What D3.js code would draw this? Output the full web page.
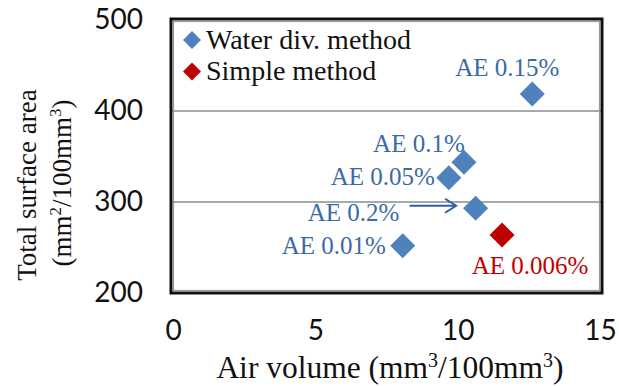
<!DOCTYPE html>
<html><head><meta charset="utf-8">
<script src="https://cdn.jsdelivr.net/npm/d3@7/dist/d3.min.js"></script>
<style>
html,body{margin:0;padding:0;background:#fff;}
svg{display:block;}
</style></head>
<body><div id="chart"></div>
<script>
// ---- data ----
const seriesNames = ["Water div. method", "Simple method"];
const seriesColors = ["#4f81bd", "#c00000"];
const labelColors = ["#3b6aa6", "#c00000"];
const waterLabels = ["AE 0.15%", "AE 0.1%", "AE 0.05%", "AE 0.2%", "AE 0.01%"];
const waterAir = [12.62, 10.22, 9.69, 10.63, 8.07];
const waterArea = [418.7, 343.6, 326.7, 293.1, 252.0];
const simpleLabels = ["AE 0.006%"];
const simpleAir = [11.56];
const simpleArea = [263.7];
const xTicks = [0, 5, 10, 15];
const yTicks = [200, 300, 400, 500];
const gridValues = [300, 400];

const W = 619, H = 386;
const svg = d3.select("#chart").append("svg").attr("width", W).attr("height", H);

const x = d3.scaleLinear().domain([0, 15]).range([173, 600]);
const y = d3.scaleLinear().domain([200, 500]).range([293, 20]);

// gridlines
svg.append("g").selectAll("line").data(gridValues).join("line")
  .attr("x1", 172).attr("x2", 601)
  .attr("y1", d => y(d)).attr("y2", d => y(d))
  .attr("stroke", "#8c8c8c").attr("stroke-width", 1.6);

// frame: outer black, inner gray
svg.append("rect").attr("x", 171).attr("y", 19).attr("width", 431).attr("height", 274)
  .attr("fill", "none").attr("stroke", "#111").attr("stroke-width", 3);
svg.append("rect").attr("x", 173.5).attr("y", 21.5).attr("width", 426).attr("height", 269)
  .attr("fill", "none").attr("stroke", "#9a9a9a").attr("stroke-width", 1.2);

// axes
const yAxis = svg.append("g").attr("transform", "translate(143,0)")
  .call(d3.axisLeft(y).tickValues(yTicks).tickSize(0).tickPadding(0).tickFormat(d3.format("d")));
yAxis.select(".domain").remove();
yAxis.selectAll("text").attr("font-family", "Lato, 'Open Sans', sans-serif").attr("font-size", 28).attr("fill", "#111");

const xAxis = svg.append("g").attr("transform", "translate(0,320)")
  .call(d3.axisBottom(x).tickValues(xTicks).tickSize(0).tickPadding(0).tickFormat(d3.format("d")));
xAxis.select(".domain").remove();
xAxis.selectAll("text").attr("font-family", "Lato, 'Open Sans', sans-serif").attr("font-size", 28).attr("fill", "#111");

// markers
function diamondPath(half) {
  return `M0,${-half}L${half},0L0,${half}L${-half},0Z`;
}
const waterData = waterAir.map((v, i) => ({x: v, y: waterArea[i], label: waterLabels[i]}));
const simpleData = simpleAir.map((v, i) => ({x: v, y: simpleArea[i], label: simpleLabels[i]}));

svg.append("g").selectAll("path").data(waterData).join("path")
  .attr("d", diamondPath(12.5))
  .attr("transform", d => `translate(${x(d.x)},${y(d.y)})`)
  .attr("fill", seriesColors[0]);
svg.append("g").selectAll("path").data(simpleData).join("path")
  .attr("d", diamondPath(12.5))
  .attr("transform", d => `translate(${x(d.x)},${y(d.y)})`)
  .attr("fill", seriesColors[1]);

// data labels (offsets relative to marker)
const waterOffsets = [[-25, -17.5], [-45, -10], [-66, 7.5], [-122, 13], [-69, 8]];
const simpleOffsets = [[28, 38.5]];
const serif = "'Liberation Serif', 'Times New Roman', serif";
svg.append("g").selectAll("text").data(waterData).join("text")
  .attr("x", (d, i) => x(d.x) + waterOffsets[i][0])
  .attr("y", (d, i) => y(d.y) + waterOffsets[i][1])
  .attr("text-anchor", "middle")
  .attr("font-family", serif).attr("font-size", 25)
  .attr("fill", labelColors[0]).text(d => d.label);
svg.append("g").selectAll("text").data(simpleData).join("text")
  .attr("x", (d, i) => x(d.x) + simpleOffsets[i][0])
  .attr("y", (d, i) => y(d.y) + simpleOffsets[i][1])
  .attr("text-anchor", "middle")
  .attr("font-family", serif).attr("font-size", 25)
  .attr("fill", labelColors[1]).text(d => d.label);

// arrow for AE 0.2%
const p = waterData[3];
const ax1 = x(p.x) - 66, ax2 = x(p.x) - 19.5, ay = y(p.y) - 2.5;
svg.append("line").attr("x1", ax1).attr("x2", ax2).attr("y1", ay).attr("y2", ay)
  .attr("stroke", "#2f5f98").attr("stroke-width", 2);
svg.append("path").attr("d", `M${ax2 - 11},${ay - 7}L${ax2},${ay}L${ax2 - 11},${ay + 7}`)
  .attr("fill", "none").attr("stroke", "#2f5f98").attr("stroke-width", 2);

// legend
const legend = svg.append("g");
seriesNames.forEach((name, i) => {
  const ly = 40 + i * 31.5;
  legend.append("path").attr("d", diamondPath(9)).attr("transform", `translate(192,${ly})`).attr("fill", seriesColors[i]);
  legend.append("text").attr("x", 206).attr("y", ly + 8.5)
    .attr("font-family", serif).attr("font-size", 28).attr("fill", "#111").text(name);
});

// axis titles
const xt = svg.append("text").attr("x", 390).attr("y", 378).attr("text-anchor", "middle")
  .attr("font-family", serif).attr("font-size", 31.5).attr("fill", "#111");
xt.append("tspan").text("Air volume (mm");
xt.append("tspan").attr("font-size", 20).attr("dy", -11).text("3");
xt.append("tspan").attr("dy", 11).text("/100mm");
xt.append("tspan").attr("font-size", 20).attr("dy", -11).text("3");
xt.append("tspan").attr("dy", 11).text(")");

const yt = svg.append("g").attr("transform", "rotate(-90)");
yt.append("text").attr("x", -185).attr("y", 36).attr("text-anchor", "middle")
  .attr("font-family", serif).attr("font-size", 27).attr("fill", "#111").text("Total surface area");
const yt2 = yt.append("text").attr("x", -183).attr("y", 71).attr("text-anchor", "middle")
  .attr("font-family", serif).attr("font-size", 27).attr("fill", "#111");
yt2.append("tspan").text("(mm");
yt2.append("tspan").attr("font-size", 17).attr("dy", -10).text("2");
yt2.append("tspan").attr("dy", 10).text("/100mm");
yt2.append("tspan").attr("font-size", 17).attr("dy", -10).text("3");
yt2.append("tspan").attr("dy", 10).text(")");
</script>
</body></html>
